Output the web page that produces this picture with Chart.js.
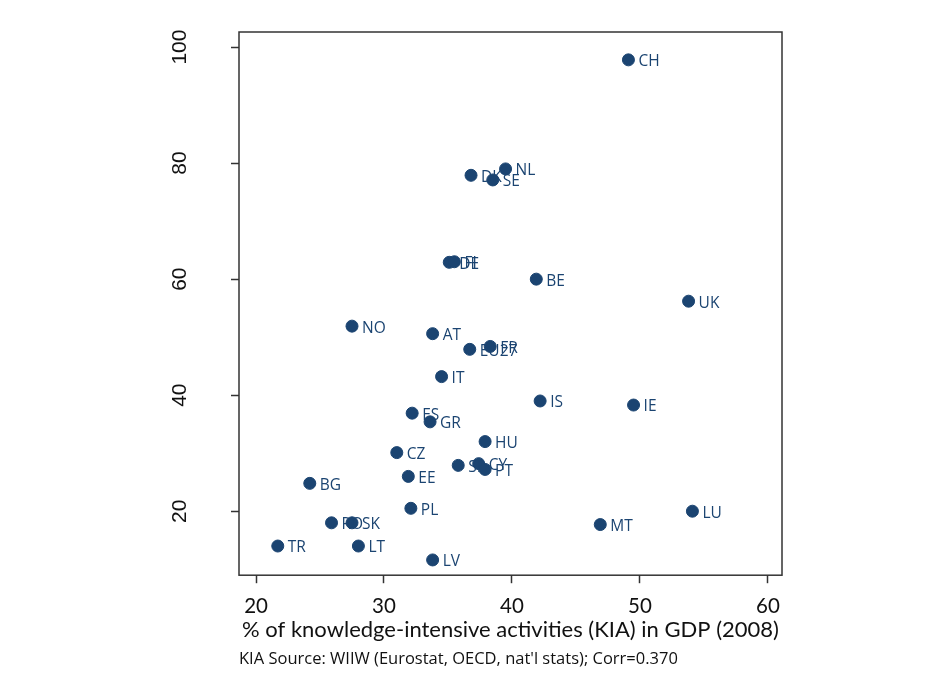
<!DOCTYPE html>
<html>
<head>
<meta charset="utf-8">
<script src="https://cdn.jsdelivr.net/npm/chart.js@4"></script>
<style>
  html, body { margin: 0; padding: 0; background: #fff; }
  #wrap { width: 937px; height: 693px; position: relative; }
</style>
</head>
<body>
<div id="wrap"><canvas id="chartKia"></canvas></div>
<script>
// Países e valores
const countries = ['CH', 'NL', 'DK', 'SE', 'DE', 'FI', 'BE', 'UK', 'NO', 'AT', 'FR', 'EU27',
  'IT', 'IS', 'IE', 'ES', 'GR', 'HU', 'CZ', 'SI', 'CY', 'PT', 'EE', 'BG', 'PL', 'LU', 'MT',
  'RO', 'SK', 'TR', 'LT', 'LV'];
const kiaShare = [49.1, 39.5, 36.8, 38.5, 35.1, 35.5, 41.9, 53.8, 27.5, 33.8, 38.3, 36.7,
  34.5, 42.2, 49.5, 32.2, 33.6, 37.9, 31.0, 35.8, 37.4, 37.9, 31.9, 24.2, 32.1, 54.1, 46.9,
  25.9, 27.5, 21.7, 28.0, 33.8];
const yValues = [97.8, 79.0, 77.9, 77.1, 62.9, 63.0, 60.0, 56.2, 51.9, 50.6, 48.4, 47.9,
  43.2, 39.0, 38.3, 36.9, 35.4, 32.0, 30.1, 27.9, 28.2, 27.2, 26.0, 24.8, 20.5, 20.0, 17.7,
  18.0, 18.0, 14.0, 14.0, 11.6];
const xTicks = [20, 30, 40, 50, 60];
const yTicks = [20, 40, 60, 80, 100];

const navy = '#1b4471';

// Rótulos dos países ao lado de cada ponto + moldura da área
const pointLabels = {
  id: 'pointLabels',
  afterDatasetsDraw(chart) {
    const ctx = chart.ctx;
    const meta = chart.getDatasetMeta(0);
    ctx.save();
    ctx.fillStyle = navy;
    ctx.font = '15.5px "Open Sans"';
    ctx.textBaseline = 'middle';
    meta.data.forEach(function(pt, i) {
      ctx.fillText(countries[i], pt.x + 10, pt.y + 2);
    });
    const a = chart.chartArea;
    ctx.strokeStyle = '#333';
    ctx.lineWidth = 1.5;
    ctx.strokeRect(a.left, a.top, a.right - a.left, a.bottom - a.top);
    ctx.restore();
  }
};

const points = kiaShare.map(function(x, i) { return { x: x, y: yValues[i] }; });

new Chart(document.getElementById('chartKia'), {
  type: 'scatter',
  data: {
    datasets: [{
      data: points,
      backgroundColor: navy,
      borderColor: navy,
      pointRadius: 6,
      pointHoverRadius: 6
    }]
  },
  options: {
    responsive: true,
    maintainAspectRatio: false,
    animation: false,
    layout: { padding: { left: 159, right: 155, top: 32, bottom: 10 } },
    plugins: {
      legend: { display: false },
      tooltip: { enabled: false },
      subtitle: {
        display: true,
        text: "KIA Source: WIIW (Eurostat, OECD, nat'l stats); Corr=0.370",
        position: 'bottom',
        align: 'start',
        fullSize: false,
        color: '#111',
        font: { family: 'Open Sans', size: 16.5, weight: 'normal' },
        padding: { top: 4, bottom: 14 }
      }
    },
    scales: {
      x: {
        type: 'linear',
        min: 18.67,
        max: 61.1,
        afterBuildTicks: function(axis) { axis.ticks = xTicks.map(function(v) { return { value: v }; }); },
        afterFit: function(axis) { axis.height = 70; axis.paddingLeft = 0; axis.paddingRight = 0; },
        grid: { drawOnChartArea: false, drawTicks: true, tickLength: 8, color: '#333', tickWidth: 1.5 },
        border: { display: false },
        ticks: { color: '#111', font: { family: 'Lato', size: 20.5 }, padding: 11, maxRotation: 0 },
        title: {
          display: true,
          text: '% of knowledge-intensive activities (KIA) in GDP (2008)',
          color: '#111',
          font: { family: 'Lato', size: 22 },
          padding: { top: 0, bottom: 2 }
        }
      },
      y: {
        type: 'linear',
        min: 8.97,
        max: 102.6,
        afterBuildTicks: function(axis) { axis.ticks = yTicks.map(function(v) { return { value: v }; }); },
        afterFit: function(axis) { axis.width = 80; axis.paddingTop = 0; axis.paddingBottom = 0; },
        grid: { drawOnChartArea: false, drawTicks: true, tickLength: 8, color: '#333', tickWidth: 1.5 },
        border: { display: false },
        ticks: { color: '#111', font: { family: 'Liberation Sans', size: 21 }, padding: 33,
          minRotation: 90, maxRotation: 90, crossAlign: 'center' }
      }
    }
  },
  plugins: [pointLabels]
});
</script>
</body>
</html>
